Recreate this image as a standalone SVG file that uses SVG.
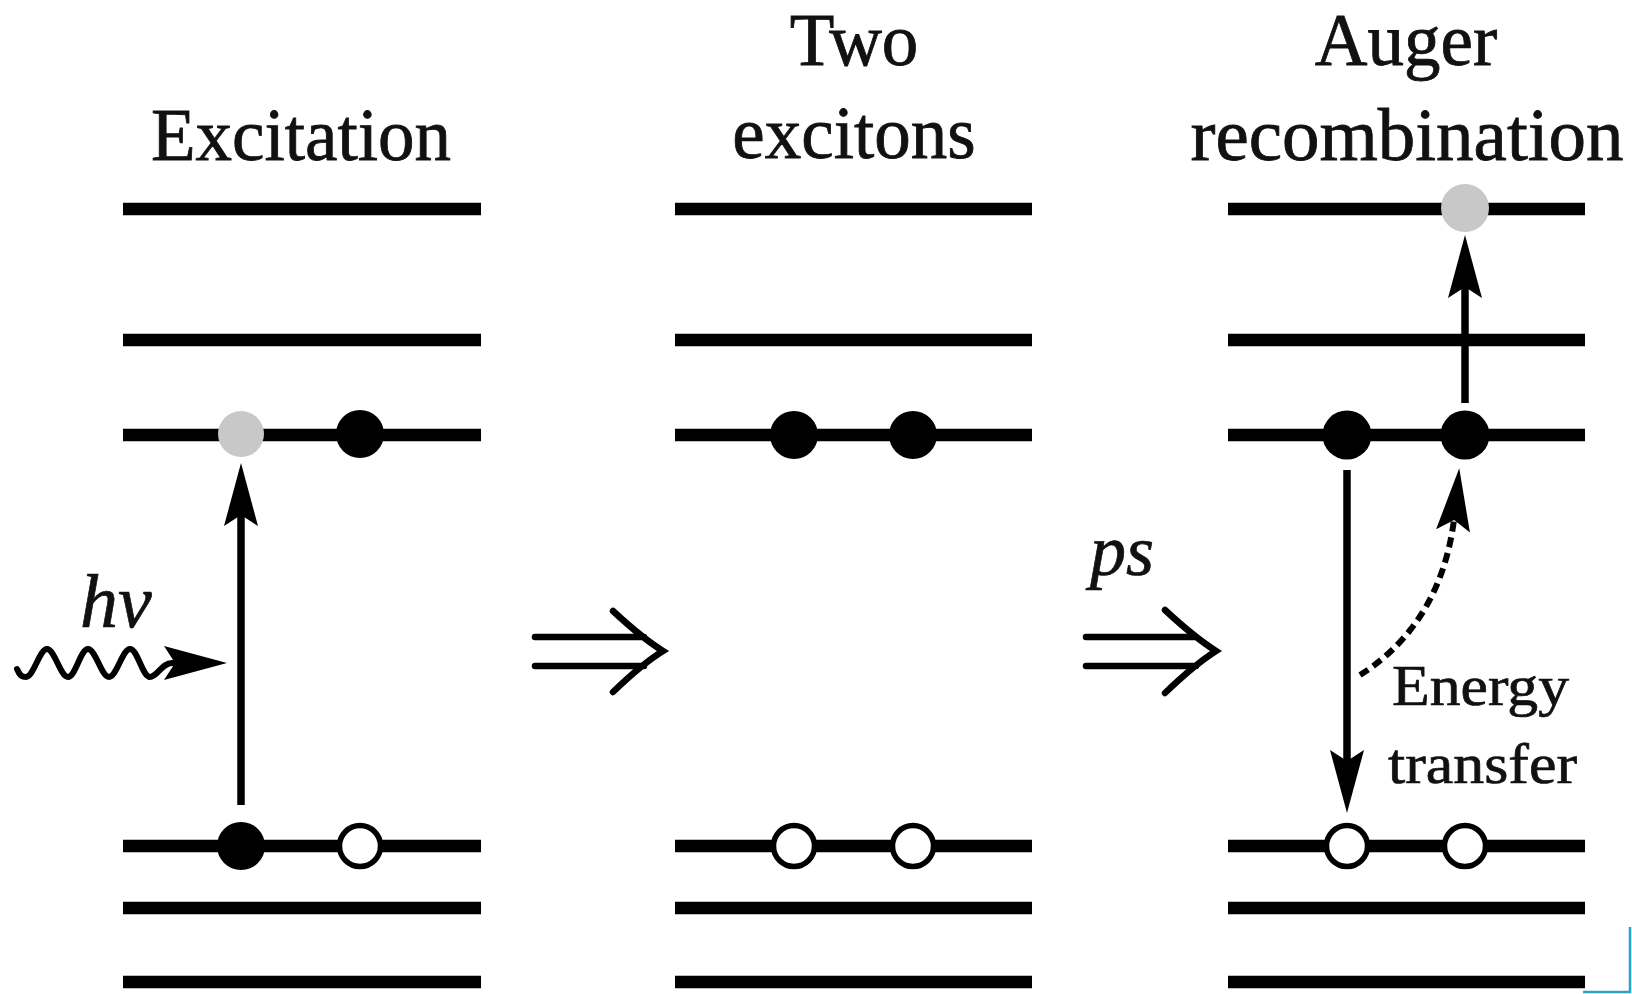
<svg xmlns="http://www.w3.org/2000/svg" width="1632" height="994" viewBox="0 0 1632 994">
<style>
.lvl{stroke:#000;stroke-width:12.5;stroke-linecap:butt;fill:none}
.ttl{font-family:"Liberation Serif","Times New Roman",serif;font-size:73px;fill:#111;stroke:#111;stroke-width:0.8;text-anchor:middle}
.lbl{font-family:"Liberation Serif","Times New Roman",serif;font-size:57px;fill:#111;stroke:#111;stroke-width:0.7}
.it{font-family:"Liberation Serif","Times New Roman",serif;font-style:italic;fill:#111;stroke:#111;stroke-width:0.7}
.e{fill:#000}
.g{fill:#c8c8c8}
.h{fill:#fff;stroke:#000;stroke-width:5.5}
.arr{stroke:#000;stroke-width:7.5;fill:none;marker-end:url(#head)}
.dash{stroke:#000;stroke-width:6;fill:none;stroke-dasharray:10 6;marker-end:url(#head)}
.wave{stroke:#000;stroke-width:6;fill:none;stroke-linecap:round;marker-end:url(#head)}
.imp{stroke:#000;stroke-width:6.5;fill:none;stroke-linecap:round}
</style>
<defs>
<marker id="head" viewBox="0 0 64 36" refX="20" refY="18" markerWidth="64" markerHeight="36" markerUnits="userSpaceOnUse" orient="auto">
<path d="M63,18 L0,1 L11,18 L0,35 Z" fill="#000"/>
</marker>
</defs>
<rect width="1632" height="994" fill="#fff"/>

<g id="titles">
<text class="ttl" x="301" y="160">Excitation</text>
<text class="ttl" x="854" y="65">Two</text>
<text class="ttl" x="854" y="158">excitons</text>
<text class="ttl" x="1406" y="65">Auger</text>
<text class="ttl" x="1407" y="160" textLength="433" lengthAdjust="spacingAndGlyphs">recombination</text>
</g>

<g id="panel-excitation">
<line class="lvl" x1="123" y1="209" x2="481" y2="209"/>
<line class="lvl" x1="123" y1="340" x2="481" y2="340"/>
<line class="lvl" x1="123" y1="435" x2="481" y2="435"/>
<line class="lvl" x1="123" y1="846" x2="481" y2="846"/>
<line class="lvl" x1="123" y1="908" x2="481" y2="908"/>
<line class="lvl" x1="123" y1="982" x2="481" y2="982"/>
<circle class="g" cx="241" cy="434" r="23"/>
<circle class="e" cx="360" cy="434" r="24"/>
<circle class="e" cx="241" cy="846" r="24"/>
<circle class="h" cx="360" cy="846" r="20.5"/>
<text class="it" x="80" y="627" font-size="76">hν</text>
</g>

<g id="panel-two-excitons">
<line class="lvl" x1="675" y1="209" x2="1032" y2="209"/>
<line class="lvl" x1="675" y1="340" x2="1032" y2="340"/>
<line class="lvl" x1="675" y1="435" x2="1032" y2="435"/>
<line class="lvl" x1="675" y1="846" x2="1032" y2="846"/>
<line class="lvl" x1="675" y1="908" x2="1032" y2="908"/>
<line class="lvl" x1="675" y1="982" x2="1032" y2="982"/>
<circle class="e" cx="794" cy="435" r="24"/>
<circle class="e" cx="913" cy="435" r="24"/>
<circle class="h" cx="794" cy="846" r="20.5"/>
<circle class="h" cx="913" cy="846" r="20.5"/>
</g>

<g id="panel-auger">
<line class="lvl" x1="1228" y1="209" x2="1585" y2="209"/>
<line class="lvl" x1="1228" y1="340" x2="1585" y2="340"/>
<line class="lvl" x1="1228" y1="435" x2="1585" y2="435"/>
<line class="lvl" x1="1228" y1="846" x2="1585" y2="846"/>
<line class="lvl" x1="1228" y1="908" x2="1585" y2="908"/>
<line class="lvl" x1="1228" y1="982" x2="1585" y2="982"/>
<circle class="g" cx="1465" cy="208" r="24"/>
<circle class="e" cx="1347" cy="435" r="24.5"/>
<circle class="e" cx="1465" cy="435" r="24.5"/>
<circle class="h" cx="1347" cy="846" r="20.5"/>
<circle class="h" cx="1465" cy="846" r="20.5"/>
<text class="lbl" x="1392" y="705" textLength="177" lengthAdjust="spacingAndGlyphs">Energy</text>
<text class="lbl" x="1388" y="783" textLength="189" lengthAdjust="spacingAndGlyphs">transfer</text>
</g>

<g id="step-1">
<path class="imp" d="M535,637 H644 M535,666 H644 M613,611 Q642,638 663,651 Q642,664 613,692"/>
</g>
<g id="step-2">
<path class="imp" d="M1086,637 H1196 M1086,666 H1196 M1165,610 Q1194,637 1216,651 Q1194,665 1165,693"/>
<text class="it" x="1090" y="575" font-size="72">ps</text>
</g>

<g id="connectors">
<path class="wave" d="M17,669 C20,676 22,677 26,677 C33.5,677 39.5,649 47,649 C54.5,649 60.5,677 68,677 C75.5,677 80.5,649 88,649 C95.5,649 101.5,677 109,677 C116.5,677 122.5,649 130,649 C137.5,649 142.5,677 150,677 C157,677 162,663 172,663 L184,663"/>
<path class="arr" d="M241,805 V506"/>
<path class="arr" d="M1465,403 V278"/>
<path class="arr" d="M1347,470 V770"/>
<path class="dash" d="M1360,675 C1400,650 1446,602 1455,511"/>
</g>

<g id="edge-marks">
<path d="M1630,927 V992 H1583" fill="none" stroke="#2aa3c6" stroke-width="2.5"/>
</g>
</svg>
